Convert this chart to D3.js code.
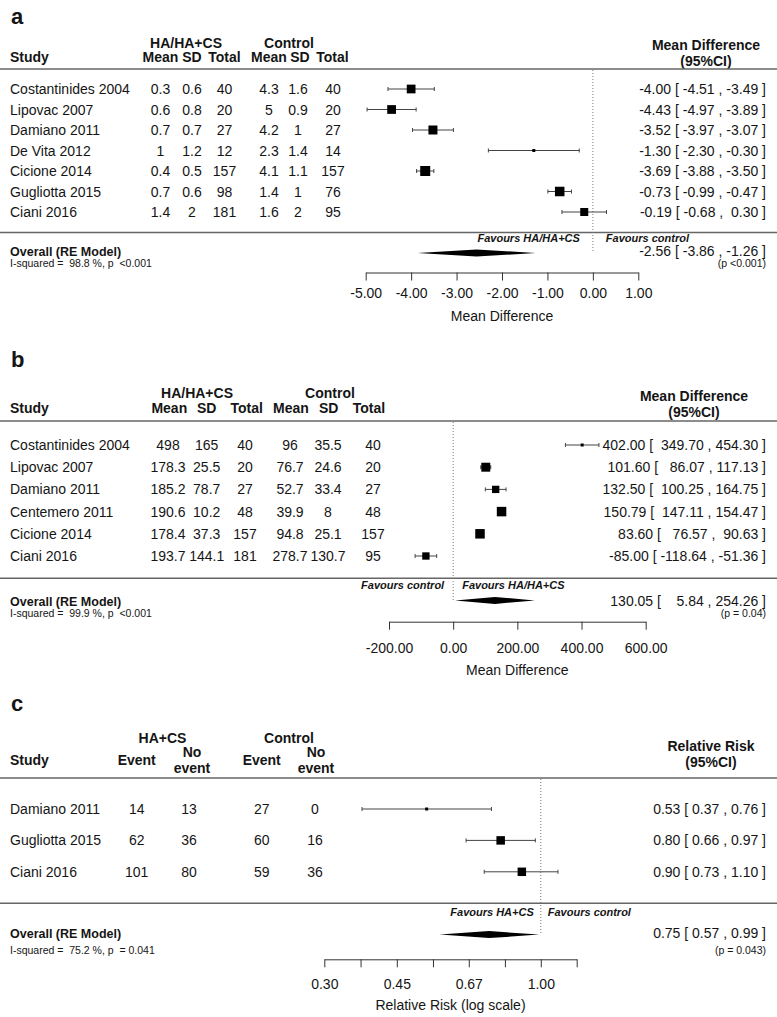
<!DOCTYPE html>
<html>
<head>
<meta charset="utf-8">
<script src="https://cdn.jsdelivr.net/npm/d3@7"></script>
<style>
  body { margin: 0; background: #fff; }
  svg text { fill: #151515; }
</style>
</head>
<body>
<div id="container"></div>
<script>
// ---- panel a: HA/HA+CS vs control, mean difference ----
const studiesA = ['Costantinides 2004', 'Lipovac 2007', 'Damiano 2011', 'De Vita 2012', 'Cicione 2014', 'Gugliotta 2015', 'Ciani 2016'];
const treatMeanA = [0.3, 0.6, 0.7, 1, 0.4, 0.7, 1.4];
const treatSdA = [0.6, 0.8, 0.7, 1.2, 0.5, 0.6, 2];
const treatNA = [40, 20, 27, 12, 157, 98, 181];
const ctrlMeanA = [4.3, 5, 4.2, 2.3, 4.1, 1.4, 1.6];
const ctrlSdA = [1.6, 0.9, 1, 1.4, 1.1, 1, 2];
const ctrlNA = [40, 20, 27, 14, 157, 76, 95];
const estA = [-4.00, -4.43, -3.52, -1.30, -3.69, -0.73, -0.19];
const lowA = [-4.51, -4.97, -3.97, -2.30, -3.88, -0.99, -0.68];
const highA = [-3.49, -3.89, -3.07, -0.30, -3.50, -0.47, 0.30];
const weightA = [14.35, 14.35, 14.4, 13.2, 14.6, 14.5, 14.2];
const overallA = [-2.56, -3.86, -1.26];
const hetA = 'I-squared =  98.8 %, p  <0.001';
const pA = '(p <0.001)';
const ticksA = [-5, -4, -3, -2, -1, 0, 1];
const tickLabelsA = ['-5.00', '-4.00', '-3.00', '-2.00', '-1.00', '0.00', '1.00'];

// ---- panel b ----
const studiesB = ['Costantinides 2004', 'Lipovac 2007', 'Damiano 2011', 'Centemero 2011', 'Cicione 2014', 'Ciani 2016'];
const treatMeanB = [498, 178.3, 185.2, 190.6, 178.4, 193.7];
const treatSdB = [165, 25.5, 78.7, 10.2, 37.3, 144.1];
const treatNB = [40, 20, 27, 48, 157, 181];
const ctrlMeanB = [96, 76.7, 52.7, 39.9, 94.8, 278.7];
const ctrlSdB = [35.5, 24.6, 33.4, 8, 25.1, 130.7];
const ctrlNB = [40, 20, 27, 48, 157, 95];
const estB = [402.00, 101.60, 132.50, 150.79, 83.60, -85.00];
const lowB = [349.70, 86.07, 100.25, 147.11, 76.57, -118.64];
const highB = [454.30, 117.13, 164.75, 154.47, 90.63, -51.36];
const weightB = [16.2, 16.75, 16.6, 16.8, 16.8, 16.6];
const overallB = [130.05, 5.84, 254.26];
const hetB = 'I-squared =  99.9 %, p  <0.001';
const pB = '(p = 0.04)';
const ticksB = [-200, 0, 200, 400, 600];
const tickLabelsB = ['-200.00', '0.00', '200.00', '400.00', '600.00'];

// ---- panel c: relative risk ----
const studiesC = ['Damiano 2011', 'Gugliotta 2015', 'Ciani 2016'];
const treatEventC = [14, 62, 101];
const treatNoEventC = [13, 36, 80];
const ctrlEventC = [27, 60, 59];
const ctrlNoEventC = [0, 16, 36];
const estC = [0.53, 0.80, 0.90];
const lowC = [0.37, 0.66, 0.73];
const highC = [0.76, 0.97, 1.10];
const weightC = [21.9, 39.1, 39.0];
const overallC = [0.75, 0.57, 0.99];
const hetC = 'I-squared =  75.2 %, p  = 0.041';
const pC = '(p = 0.043)';
const ticksC = [0.30, 0.367, 0.449, 0.549, 0.670, 0.819, 1.00, 1.221];
const tickLabelsC = ['0.30', '', '0.45', '', '0.67', '', '1.00', ''];

const W = 777, H = 1017;
const fontSans = '"Liberation Sans", Arial, Helvetica, sans-serif';
const lineCol = '#666';

const svg = d3.select('#container').append('svg')
    .attr('width', W)
    .attr('height', H)
    .style('font-family', fontSans);

function txt(g, x, y, s, o = {}) {
    return g.append('text')
        .attr('x', x)
        .attr('y', y)
        .attr('font-size', o.size || 14)
        .attr('font-weight', o.bold ? 'bold' : null)
        .attr('font-style', o.italic ? 'italic' : null)
        .attr('text-anchor', o.anchor || 'start')
        .attr('xml:space', 'preserve')
        .style('white-space', 'pre')
        .text(s);
}

// "est [ low , high ]" with padding like metafor does
function ciLabels(est, low, high, overall) {
    const f = (v) => v.toFixed(2);
    const lows = low.concat([overall[1]]).map(f);
    const highs = high.concat([overall[2]]).map(f);
    const wl = d3.max(lows, (s) => s.length);
    const wh = d3.max(highs, (s) => s.length);
    return est.concat([overall[0]]).map((e, i) =>
        `${f(e)} [ ${lows[i].padStart(wl)} , ${highs[i].padStart(wh)} ]`);
}

function drawPanel(p) {
    const g = svg.append('g');
    const n = p.studies.length;
    const y = d3.scaleLinear().domain([0, 1]).range([p.row0, p.row0 + p.rowStep]);
    const x = (p.log ? d3.scaleLog() : d3.scaleLinear())
        .domain(d3.extent(p.ticks))
        .range(p.range);
    const size = d3.scaleLinear().domain(d3.extent(p.weights)).range(p.boxRange);
    const labels = ciLabels(p.est, p.low, p.high, p.overall);

    // headings
    txt(g, 11, p.letterY, p.letter, { size: 22, bold: true });
    p.groups.forEach((s, i) => txt(g, p.groupX[i], p.groupY, s, { bold: true, anchor: 'middle' }));
    txt(g, 10, p.headY, 'Study', { bold: true });
    p.colHeads.forEach((lines, i) => {
        lines.forEach((s, j) => {
            const yy = lines.length === 1 ? p.headY : p.headY + (j === 0 ? -8.5 : 8);
            txt(g, p.headX[i], yy, s, { bold: true, anchor: 'middle' });
        });
    });
    p.effectHead.forEach((s, j) => txt(g, p.effX, p.effY[j], s, { bold: true, anchor: 'middle' }));

    // horizontal rules
    [p.hline, y(n)].forEach((yy) => {
        g.append('line')
            .attr('x1', 0).attr('x2', W)
            .attr('y1', yy).attr('y2', yy)
            .attr('stroke', lineCol)
            .attr('stroke-width', 1.5);
    });

    // reference line
    g.append('line')
        .attr('x1', x(p.ref)).attr('x2', x(p.ref))
        .attr('y1', p.hline + 1).attr('y2', y(n + 1))
        .attr('stroke', '#777')
        .attr('stroke-width', 1)
        .attr('stroke-dasharray', '1,2');

    // study rows
    p.studies.forEach((s, i) => {
        const yy = y(i);
        txt(g, 10, yy + 5, s);
        p.cols.forEach((col, c) => txt(g, p.colX[c], yy + 5, String(col[i]), { anchor: 'middle' }));
        txt(g, 766, yy + 5, labels[i], { anchor: 'end' });

        g.append('line')
            .attr('x1', x(p.low[i])).attr('x2', x(p.high[i]))
            .attr('y1', yy).attr('y2', yy)
            .attr('stroke', '#444');
        [p.low[i], p.high[i]].forEach((v) => {
            g.append('line')
                .attr('x1', x(v)).attr('x2', x(v))
                .attr('y1', yy - 2).attr('y2', yy + 2)
                .attr('stroke', '#444');
        });
        const s2 = size(p.weights[i]);
        g.append('rect')
            .attr('x', x(p.est[i]) - s2 / 2)
            .attr('y', yy - s2 / 2)
            .attr('width', s2)
            .attr('height', s2)
            .attr('fill', '#000');
    });

    // favours labels
    txt(g, x(p.ref) - p.favGap, p.favY, p.favours[0], { size: 11, bold: true, italic: true, anchor: 'end' });
    txt(g, x(p.ref) + p.favGap, p.favY, p.favours[1], { size: 11, bold: true, italic: true });

    // overall
    const yo = y(n + 1);
    g.append('path')
        .attr('d', `M${x(p.overall[1])},${yo} L${x(p.overall[0])},${yo - 3.5} L${x(p.overall[2])},${yo} L${x(p.overall[0])},${yo + 3.5} Z`)
        .attr('fill', '#000');
    txt(g, 10, p.overallBase, 'Overall (RE Model)', { size: 12.5, bold: true });
    txt(g, 10, p.hetBase, p.het, { size: 10.5 });
    txt(g, 766, p.overallBase, labels[n], { anchor: 'end' });
    txt(g, 766, p.hetBase, p.pText, { size: 10.5, anchor: 'end' });

    // axis
    const axis = d3.axisBottom(x)
        .tickValues(p.ticks)
        .tickFormat((d, i) => p.tickLabels[i])
        .tickSize(8)
        .tickSizeOuter(0)
        .tickPadding(p.tickPad);
    const ax = g.append('g')
        .attr('transform', `translate(0,${p.axisY})`)
        .call(axis)
        .attr('font-size', 14)
        .attr('font-family', fontSans);
    ax.select('.domain').attr('stroke', '#333');
    ax.selectAll('.tick line').attr('stroke', '#333');
    ax.selectAll('.tick text').attr('fill', '#151515');

    txt(g, (p.range[0] + p.range[1]) / 2, p.titleBase, p.axisTitle, { anchor: 'middle' });
}

drawPanel({
    letter: 'a', letterY: 24,
    groups: ['HA/HA+CS', 'Control'], groupX: [186, 289], groupY: 48,
    headY: 62,
    colHeads: [['Mean'], ['SD'], ['Total'], ['Mean'], ['SD'], ['Total']],
    headX: [160.5, 192, 224.5, 269, 300, 332.5],
    colX: [160.5, 192, 224.5, 269, 298, 333],
    cols: [treatMeanA, treatSdA, treatNA, ctrlMeanA, ctrlSdA, ctrlNA],
    effectHead: ['Mean Difference', '(95%CI)'], effX: 706, effY: [49.5, 66],
    hline: 69, row0: 89, rowStep: 20.5,
    studies: studiesA, est: estA, low: lowA, high: highA, weights: weightA, boxRange: [3, 10],
    overall: overallA, het: hetA, pText: pA,
    overallBase: 256, hetBase: 267,
    favours: ['Favours HA/HA+CS', 'Favours control'], favY: 242, favGap: 13,
    ref: 0, ticks: ticksA, tickLabels: tickLabelsA, range: [365.7, 638.3],
    axisY: 272.5, tickPad: 7.5, axisTitle: 'Mean Difference', titleBase: 321
});

drawPanel({
    letter: 'b', letterY: 367,
    groups: ['HA/HA+CS', 'Control'], groupX: [197, 330], groupY: 398,
    headY: 413,
    colHeads: [['Mean'], ['SD'], ['Total'], ['Mean'], ['SD'], ['Total']],
    headX: [169.3, 206.7, 246.7, 291, 328.7, 369],
    colX: [168, 206.7, 245, 290, 328, 373],
    cols: [treatMeanB, treatSdB, treatNB, ctrlMeanB, ctrlSdB, ctrlNB],
    effectHead: ['Mean Difference', '(95%CI)'], effX: 694, effY: [401, 416.5],
    hline: 421, row0: 445, rowStep: 22.2,
    studies: studiesB, est: estB, low: lowB, high: highB, weights: weightB, boxRange: [3, 9.5],
    overall: overallB, het: hetB, pText: pB,
    overallBase: 605.5, hetBase: 616.5,
    favours: ['Favours control', 'Favours HA/HA+CS'], favY: 589, favGap: 9,
    ref: 0, ticks: ticksB, tickLabels: tickLabelsB, range: [389, 645.7],
    axisY: 621.7, tickPad: 13.3, axisTitle: 'Mean Difference', titleBase: 675
});

drawPanel({
    letter: 'c', letterY: 711,
    groups: ['HA+CS', 'Control'], groupX: [162.5, 289], groupY: 743,
    headY: 765,
    colHeads: [['Event'], ['No', 'event'], ['Event'], ['No', 'event']],
    headX: [136.7, 192, 261.7, 316],
    colX: [136.7, 189, 261.7, 315],
    cols: [treatEventC, treatNoEventC, ctrlEventC, ctrlNoEventC],
    effectHead: ['Relative Risk', '(95%CI)'], effX: 711, effY: [751, 767],
    hline: 778, row0: 809, rowStep: 31.4,
    studies: studiesC, est: estC, low: lowC, high: highC, weights: weightC, boxRange: [3, 8.5],
    overall: overallC, het: hetC, pText: pC,
    overallBase: 938, hetBase: 954,
    favours: ['Favours HA+CS', 'Favours control'], favY: 915.5, favGap: 7,
    ref: 1, log: true, ticks: ticksC, tickLabels: tickLabelsC, range: [324.3, 576.7],
    axisY: 959.3, tickPad: 12, axisTitle: 'Relative Risk (log scale)', titleBase: 1010
});
</script>
</body>
</html>
